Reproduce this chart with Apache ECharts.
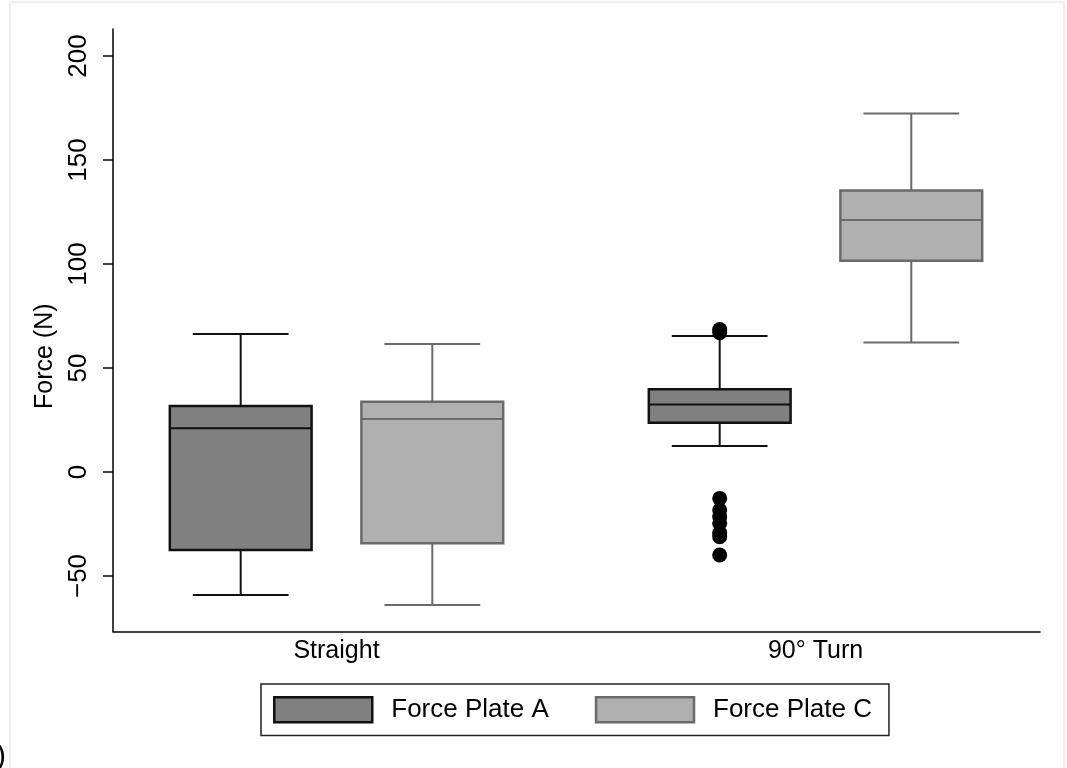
<!DOCTYPE html>
<html>
<head>
<meta charset="utf-8">
<title>Force by condition and force plate</title>
<script src="https://cdn.jsdelivr.net/npm/echarts@6/dist/echarts.min.js"></script>
<style>
  html, body { margin: 0; padding: 0; background: #ffffff; }
  #chart { width: 1067px; height: 768px; }
</style>
</head>
<body>
<div id="chart"></div>
<script>
// Conditions along the horizontal axis
const categories = ['Straight', '90° Turn'];

// Box statistics per condition: [lower whisker, Q1, median, Q3, upper whisker]
const plateA = [
  [-59.1, -37.5, 21.0, 31.7, 66.3],
  [12.5, 23.7, 32.5, 39.8, 65.4]
];
const plateC = [
  [-63.9, -34.3, 25.5, 33.8, 61.5],
  [62.3, 101.6, 121.2, 135.3, 172.4]
];

// Outlying observations for Force Plate A, 90° turn
const outliersA = [67.0, 68.5, -12.7, -18.3, -21.5, -24.7, -29.2, -31.1, -39.9];
const outlierCategory = 1;

// Y axis ticks
const yTicks = [-50, 0, 50, 100, 150, 200];

const FONT = '"Liberation Sans", Arial, Helvetica, sans-serif';

// Layout of each box within its category slot (in category units)
const groupOffset = 0.2;
const boxHalf = 0.148;
const capHalf = 0.1;

function toRows(stats) {
  return stats.map((s, i) => [i].concat(s));
}

function boxRenderer(offset, fill, stroke) {
  return function (params, api) {
    const x = api.value(0) + offset;
    const lo = api.value(1), q1 = api.value(2), md = api.value(3), q3 = api.value(4), hi = api.value(5);
    const tl = api.coord([x - boxHalf, q3]);
    const br = api.coord([x + boxHalf, q1]);
    const mL = api.coord([x - boxHalf, md]);
    const mR = api.coord([x + boxHalf, md]);
    const c = function (v) { return api.coord([x, v]); };
    const capL = function (v) { return api.coord([x - capHalf, v]); };
    const capR = function (v) { return api.coord([x + capHalf, v]); };
    const line = { stroke: stroke, lineWidth: 2, fill: null };
    return {
      type: 'group',
      children: [
        { type: 'line', shape: { x1: c(q3)[0], y1: c(q3)[1], x2: c(hi)[0], y2: c(hi)[1] }, style: line },
        { type: 'line', shape: { x1: c(q1)[0], y1: c(q1)[1], x2: c(lo)[0], y2: c(lo)[1] }, style: line },
        { type: 'line', shape: { x1: capL(hi)[0], y1: capL(hi)[1], x2: capR(hi)[0], y2: capR(hi)[1] }, style: line },
        { type: 'line', shape: { x1: capL(lo)[0], y1: capL(lo)[1], x2: capR(lo)[0], y2: capR(lo)[1] }, style: line },
        { type: 'rect', shape: { x: tl[0], y: tl[1], width: br[0] - tl[0], height: br[1] - tl[1] },
          style: { fill: fill, stroke: stroke, lineWidth: 2.5 } },
        { type: 'line', shape: { x1: mL[0], y1: mL[1], x2: mR[0], y2: mR[1] }, style: line }
      ]
    };
  };
}

const chart = echarts.init(document.getElementById('chart'), null, { renderer: 'canvas' });

chart.setOption({
  backgroundColor: '#ffffff',
  animation: false,
  textStyle: { fontFamily: FONT },
  grid: { left: 113, right: 27, top: 29, bottom: 136.5, containLabel: false },
  xAxis: {
    type: 'value',
    min: -0.4666,
    max: 1.4687,
    splitLine: { show: false },
    axisLine: { show: true, onZero: false, lineStyle: { color: '#000000', width: 1.5 } },
    axisTick: { show: false },
    axisLabel: {
      customValues: [0, 1],
      formatter: function (v) { return categories[Math.round(v)]; },
      color: '#000000',
      fontSize: 25,
      fontFamily: FONT,
      margin: 7
    }
  },
  yAxis: {
    type: 'value',
    min: -76.7,
    max: 213,
    name: 'Force (N)',
    nameLocation: 'middle',
    nameRotate: 90,
    nameGap: 46,
    nameTextStyle: { color: '#000000', fontSize: 25, fontFamily: FONT, padding: [0, 52, 0, 0] },
    splitLine: { show: false },
    axisLine: { show: true, onZero: false, lineStyle: { color: '#000000', width: 1.5 } },
    axisTick: { show: true, customValues: yTicks, length: 10, lineStyle: { color: '#000000', width: 1.5 } },
    axisLabel: {
      customValues: yTicks,
      formatter: function (v) { return v < 0 ? '\u2212' + Math.abs(v) : String(v); },
      rotate: 90,
      color: '#000000',
      fontSize: 26,
      fontFamily: FONT,
      margin: 21
    }
  },
  legend: {
    left: 261,
    top: 684,
    orient: 'horizontal',
    padding: [12, 17, 12, 12],
    borderColor: '#222222',
    borderWidth: 1.5,
    itemWidth: 98,
    itemHeight: 25,
    itemGap: 46,
    textStyle: { color: '#000000', fontSize: 26, fontFamily: FONT, padding: [0, 0, 0, 14] },
    data: [
      { name: 'Force Plate A', icon: 'rect', itemStyle: { color: '#808080', borderColor: '#111111', borderWidth: 2.5 } },
      { name: 'Force Plate C', icon: 'rect', itemStyle: { color: '#b0b0b0', borderColor: '#6a6a6a', borderWidth: 2.5 } }
    ]
  },
  graphic: [
    { type: 'rect', silent: true, shape: { x: 10, y: 2, width: 1054, height: 780 },
      style: { fill: null, stroke: '#e6eef1', lineWidth: 1.5 } },
    { type: 'text', silent: true, left: -4, top: 742,
      style: { text: ')', fontSize: 30, fontFamily: FONT, fill: '#000000' } }
  ],
  series: [
    {
      name: 'Force Plate A',
      type: 'custom',
      itemStyle: { color: '#808080', borderColor: '#111111' },
      encode: { x: 0, y: [1, 2, 3, 4, 5] },
      data: toRows(plateA),
      renderItem: boxRenderer(-groupOffset, '#808080', '#111111'),
      z: 3
    },
    {
      name: 'Force Plate C',
      type: 'custom',
      itemStyle: { color: '#b0b0b0', borderColor: '#6a6a6a' },
      encode: { x: 0, y: [1, 2, 3, 4, 5] },
      data: toRows(plateC),
      renderItem: boxRenderer(groupOffset, '#b0b0b0', '#6a6a6a'),
      z: 3
    },
    {
      name: 'Outliers A',
      type: 'scatter',
      symbol: 'circle',
      symbolSize: 15,
      itemStyle: { color: '#000000', opacity: 1 },
      data: outliersA.map(v => [outlierCategory - groupOffset, v]),
      z: 4
    }
  ]
});
</script>
</body>
</html>
